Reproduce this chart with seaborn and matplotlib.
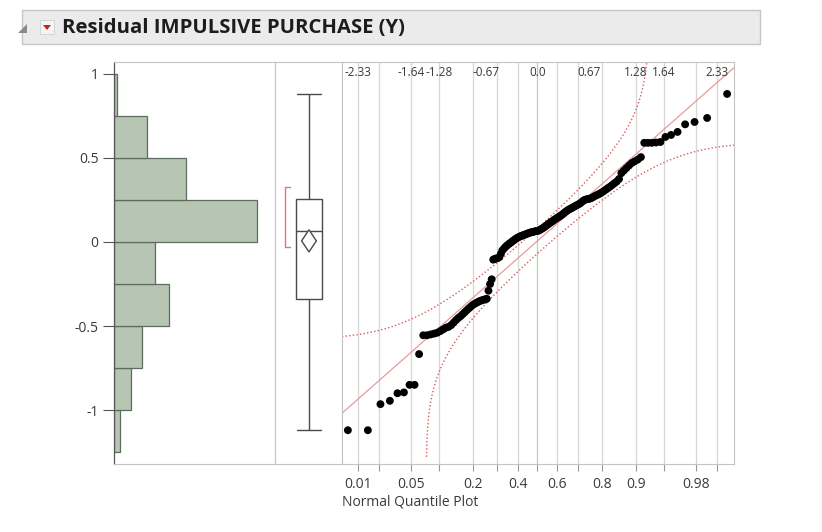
import numpy as np
import pandas as pd
import matplotlib
matplotlib.use("Agg")
import matplotlib.pyplot as plt
import seaborn as sns
from statistics import NormalDist
from matplotlib.patches import Rectangle, Polygon

sns.set_theme(style="white")
plt.rcParams['font.family'] = ['Open Sans', 'DejaVu Sans']

# ---------------- data ----------------
title = "Residual IMPULSIVE PURCHASE (Y)"
residuals = [
    -1.12, -1.12, -0.965, -0.945, -0.90, -0.895, -0.85, -0.85, -0.667, -0.555,
    -0.555, -0.55, -0.545, -0.54, -0.53, -0.52, -0.51, -0.505, -0.495, -0.48,
    -0.465, -0.452, -0.442, -0.43, -0.418, -0.406, -0.395, -0.385, -0.375, -0.368,
    -0.362, -0.356, -0.351, -0.347, -0.344, -0.341, -0.338, -0.29, -0.25, -0.222,
    -0.105, -0.10, -0.098, -0.095, -0.09, -0.07, -0.05, -0.04, -0.03, -0.022,
    -0.015, -0.008, -0.003, 0.005, 0.01, 0.017, 0.022, 0.027, 0.031, 0.035,
    0.038, 0.041, 0.044, 0.047, 0.05, 0.053, 0.056, 0.058, 0.06, 0.062,
    0.064, 0.065, 0.067, 0.07, 0.075, 0.08, 0.085, 0.09, 0.097, 0.103,
    0.109, 0.115, 0.12, 0.126, 0.132, 0.137, 0.143, 0.148, 0.153, 0.159,
    0.165, 0.172, 0.179, 0.185, 0.191, 0.196, 0.2, 0.205, 0.21, 0.215,
    0.22, 0.225, 0.23, 0.238, 0.246, 0.251, 0.254, 0.256, 0.258, 0.262,
    0.268, 0.274, 0.279, 0.284, 0.29, 0.297, 0.305, 0.313, 0.322, 0.33,
    0.34, 0.35, 0.36, 0.375, 0.41, 0.425, 0.44, 0.455, 0.47, 0.48,
    0.49, 0.505, 0.59, 0.59, 0.59, 0.592, 0.595, 0.625, 0.637, 0.655,
    0.70, 0.714, 0.738, 0.881,
]
hist_edges = [-1.25, -1.0, -0.75, -0.5, -0.25, 0.0, 0.25, 0.5, 0.75, 1.0]
y_ticks = [-1, -0.5, 0, 0.5, 1]
y_tick_labels = ["-1", "-0.5", "0", "0.5", "1"]
prob_ticks = [0.01, 0.02, 0.05, 0.1, 0.2, 0.3, 0.4, 0.5, 0.6, 0.7, 0.8, 0.9, 0.95, 0.98, 0.99]
prob_labels = ["0.01", "", "0.05", "", "0.2", "", "0.4", "", "0.6", "", "0.8", "0.9", "", "0.98", ""]
quantile_ticks = [-2.33, -1.64, -1.28, -0.67, 0.0, 0.67, 1.28, 1.64, 2.33]
quantile_labels = ["-2.33", "-1.64", "-1.28", "-0.67", "0.0", "0.67", "1.28", "1.64", "2.33"]
x_label = "Normal Quantile Plot"

# ---------------- derived ----------------
W, H = 822, 532
nd = NormalDist()
vals = np.sort(np.array(residuals))
n = len(vals)
df = pd.DataFrame({
    "resid": vals,
    "z": [nd.inv_cdf((i + 1) / (n + 1)) for i in range(n)],
})
mean = vals.mean()
sd = vals.std(ddof=1)
ylim = (-1.321, 1.071)
zlim = (-2.539, 2.552)

def fx(px):
    return px / W

def fy(py):
    return 1 - py / H

fig = plt.figure(figsize=(W / 100, H / 100), dpi=100, facecolor="white")

# header bar
fig.add_artist(Rectangle((fx(22), fy(44)), fx(760) - fx(22), fy(10) - fy(44),
                         transform=fig.transFigure, facecolor="#ebebeb",
                         edgecolor="#c6c6c6", lw=1))
fig.add_artist(Polygon([(fx(27), fy(24)), (fx(27), fy(33)), (fx(18), fy(33))],
                       closed=True, transform=fig.transFigure,
                       facecolor="#8a8a8a", edgecolor="none"))
fig.add_artist(Rectangle((fx(40), fy(34)), fx(14), fy(20) - fy(34),
                         transform=fig.transFigure, facecolor="#f4f4f4",
                         edgecolor="#d0d0d0", lw=0.6))
fig.add_artist(Polygon([(fx(43), fy(25)), (fx(51), fy(25)), (fx(47), fy(30))],
                       closed=True, transform=fig.transFigure,
                       facecolor="#d02020", edgecolor="none"))
fig.text(fx(62), fy(28), title, fontsize=14.6, fontweight="bold",
         color="#1c1c1c", va="center", ha="left")

spine_col = "#c4c4c4"
bot, top = 464, 62
ax_h = fig.add_axes([fx(114), fy(bot), fx(275) - fx(114), fy(top) - fy(bot)])
ax_b = fig.add_axes([fx(275), fy(bot), fx(342) - fx(275), fy(top) - fy(bot)])
ax_q = fig.add_axes([fx(342), fy(bot), fx(734) - fx(342), fy(top) - fy(bot)])

# ---------------- histogram ----------------
sns.histplot(data=df, y="resid", bins=hist_edges, ax=ax_h, color="#b6c6b3",
             edgecolor="#5d6d5d", linewidth=0.9, alpha=1)
ax_h.set_xlim(0, 58.5)
ax_h.set_ylim(*ylim)
ax_h.set_yticks(y_ticks)
ax_h.set_yticklabels(y_tick_labels)
ax_h.set_xticks([])
ax_h.set_xlabel("")
ax_h.set_ylabel("")
ax_h.tick_params(axis="y", direction="out", length=8, width=0.8, color="#555555",
                 labelsize=10, labelcolor="#3a3a3a", pad=3, left=True)
for s in ["top", "right", "bottom"]:
    ax_h.spines[s].set_color(spine_col)
    ax_h.spines[s].set_linewidth(0.8)
ax_h.spines["left"].set_color("#555555")
ax_h.spines["left"].set_linewidth(0.9)

# ---------------- box plot ----------------
sns.boxplot(data=df, y="resid", ax=ax_b, width=0.39, color="white",
            linecolor="#4a4a4a", linewidth=1.0, showfliers=False,
            capwidths=0.36)
ax_b.set_xlim(-0.507, 0.493)
ax_b.set_ylim(*ylim)
ci = 1.96 * sd / np.sqrt(n)
dw = 0.11
ax_b.add_patch(Polygon([(-dw, mean), (0, mean + ci), (dw, mean), (0, mean - ci)],
                       closed=True, facecolor="white", edgecolor="#4a4a4a", lw=1.0,
                       zorder=5))
h = int(np.ceil(n / 2))
spans = vals[h - 1:] - vals[:n - h + 1]
i0 = int(np.argmin(spans))
sh_lo, sh_hi = vals[i0], vals[i0 + h - 1]
xb = -0.36
ax_b.plot([xb, xb], [sh_lo, sh_hi], color="#e07878", lw=1.0)
ax_b.plot([xb, xb + 0.07], [sh_hi, sh_hi], color="#e07878", lw=1.0)
ax_b.plot([xb, xb + 0.07], [sh_lo, sh_lo], color="#e07878", lw=1.0)
ax_b.set_xticks([])
ax_b.set_yticks([])
ax_b.set_xlabel("")
ax_b.set_ylabel("")
for s in ax_b.spines.values():
    s.set_color(spine_col)
    s.set_linewidth(0.8)

# ---------------- normal quantile plot ----------------
ax_q.set_xlim(*zlim)
ax_q.set_ylim(*ylim)
prob_pos = [nd.inv_cdf(p) for p in prob_ticks]
for p, zp in zip(prob_ticks, prob_pos):
    ax_q.axvline(zp, color="#a8d8a8" if p == 0.5 else "#d6d6d6", lw=0.9, zorder=0)

zg = np.linspace(zlim[0], zlim[1], 600)
ax_q.plot(zg, mean + sd * zg, color="#e99a9a", lw=0.9, zorder=1)
D = 0.886 / np.sqrt(n)
up, lo = [], []
for zz in zg:
    pu = nd.cdf(zz) + D
    pl = nd.cdf(zz) - D
    up.append(mean + sd * nd.inv_cdf(pu) if pu < 1 else np.nan)
    lo.append(mean + sd * nd.inv_cdf(pl) if pl > 0 else np.nan)
ax_q.plot(zg, up, color="#d85c5c", lw=1.0, ls=(0, (1, 1.6)), zorder=1)
ax_q.plot(zg, lo, color="#d85c5c", lw=1.0, ls=(0, (1, 1.6)), zorder=1)

sns.scatterplot(data=df, x="z", y="resid", ax=ax_q, color="black", s=32,
                edgecolor="none", zorder=3)
ax_q.set_xticks(prob_pos)
ax_q.set_xticklabels(prob_labels)
ax_q.set_yticks([])
ax_q.tick_params(axis="x", direction="out", length=5, width=0.8, color="#999999",
                 labelsize=10, labelcolor="#3a3a3a", pad=4, bottom=True)
ax_q.set_ylabel("")
ax_q.set_xlabel(x_label, loc="left", fontsize=10, color="#3a3a3a", labelpad=2)
for s in ax_q.spines.values():
    s.set_color(spine_col)
    s.set_linewidth(0.8)
for qt, ql in zip(quantile_ticks, quantile_labels):
    ax_q.text(qt, 0.975, ql, transform=ax_q.get_xaxis_transform(), ha="center",
              va="center", fontsize=8.5, color="#3a3a3a", zorder=4)

fig.savefig("out.png", dpi=100, facecolor="white")
